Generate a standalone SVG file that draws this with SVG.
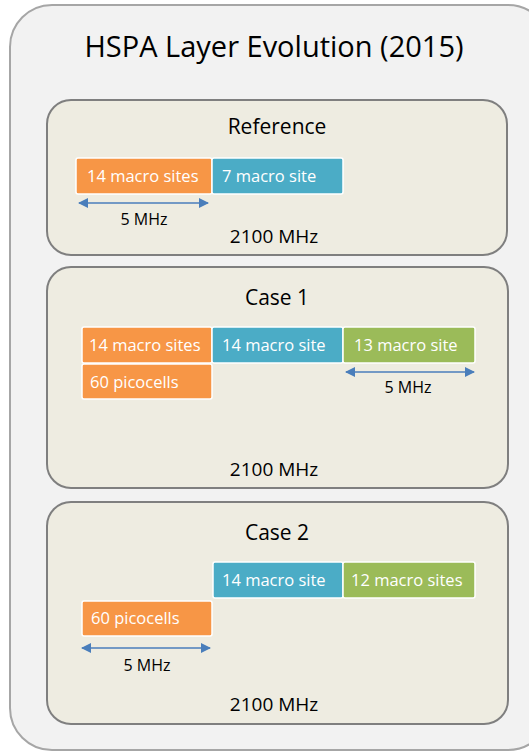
<svg xmlns="http://www.w3.org/2000/svg" width="529" height="754" viewBox="0 0 529 754">
<style>
text{font-family:"Open Sans","Noto Sans","Liberation Sans",sans-serif;}
.panel{fill:#eeece1;stroke:#7f7f7f;stroke-width:2;}
.blk{stroke:#ffffff;stroke-width:1.5;}
.or{fill:#f79646;}
.bl{fill:#4bacc6;}
.gr{fill:#9bbb59;}
.bt{fill:#ffffff;font-size:16.5px;}
.hd{fill:#000000;font-size:21px;text-anchor:middle;}
.fq{fill:#000000;font-size:19px;text-anchor:middle;}
.mz{fill:#000000;font-size:16px;text-anchor:middle;}
.arr{stroke:#4a7ebb;stroke-width:1.5;fill:none;marker-start:url(#ah);marker-end:url(#ah);}
</style>
<defs>
<marker id="ah" viewBox="0 0 10 10" refX="9" refY="5" markerWidth="10" markerHeight="10" markerUnits="userSpaceOnUse" orient="auto-start-reverse">
<path d="M0,0 L10,5 L0,10 z" fill="#4a7ebb"/>
</marker>
</defs>
<rect x="0" y="0" width="529" height="754" fill="#ffffff"/>
<g id="outer">
<rect x="10" y="5" width="540" height="745" rx="42" ry="42" fill="#f2f2f2" stroke="#a6a6a6" stroke-width="2"/>
<text x="274" y="57" style="font-size:29px;text-anchor:middle;fill:#000">HSPA Layer Evolution (2015)</text>
</g>
<g id="reference">
<rect class="panel" x="47" y="100" width="460" height="155" rx="24" ry="24"/>
<text class="hd" x="277" y="134">Reference</text>
<text class="fq" x="274" y="243">2100 MHz</text>
</g>
<g id="ref-macro14">
<rect class="blk or" x="76" y="158" width="136" height="36" rx="2"/>
<text class="bt" x="87" y="182">14 macro sites</text>
</g>
<g id="ref-macro7">
<rect class="blk bl" x="212" y="158" width="131" height="36" rx="2"/>
<text class="bt" x="222" y="182">7 macro site</text>
</g>
<g id="case1">
<rect class="panel" x="47" y="267" width="461" height="221" rx="24" ry="24"/>
<text class="hd" x="277" y="305">Case 1</text>
<text class="fq" x="274" y="476">2100 MHz</text>
</g>
<g id="c1-macro14s">
<rect class="blk or" x="82" y="327" width="130" height="36" rx="2"/>
<text class="bt" x="89" y="351">14 macro sites</text>
</g>
<g id="c1-pico">
<rect class="blk or" x="82" y="364" width="130" height="35" rx="2"/>
<text class="bt" x="90" y="388">60 picocells</text>
</g>
<g id="c1-macro14">
<rect class="blk bl" x="212" y="327" width="131" height="36" rx="2"/>
<text class="bt" x="222" y="351">14 macro site</text>
</g>
<g id="c1-macro13">
<rect class="blk gr" x="343" y="327" width="132" height="36" rx="2"/>
<text class="bt" x="354" y="351">13 macro site</text>
</g>
<g id="case2">
<rect class="panel" x="47" y="502" width="461" height="222" rx="24" ry="24"/>
<text class="hd" x="277" y="540">Case 2</text>
<text class="fq" x="274" y="711">2100 MHz</text>
</g>
<g id="c2-macro14">
<rect class="blk bl" x="213" y="562" width="130" height="36" rx="2"/>
<text class="bt" x="222" y="586">14 macro site</text>
</g>
<g id="c2-macro12">
<rect class="blk gr" x="343" y="562" width="132" height="36" rx="2"/>
<text class="bt" x="351" y="586">12 macro sites</text>
</g>
<g id="c2-pico">
<rect class="blk or" x="82" y="601" width="130" height="35" rx="2"/>
<text class="bt" x="91" y="624">60 picocells</text>
</g>
<g id="connectors">
<line class="arr" x1="79" y1="203" x2="208" y2="203"/>
<line class="arr" x1="346" y1="372" x2="474" y2="372"/>
<line class="arr" x1="82" y1="648" x2="210" y2="648"/>
</g>
<g id="labels">
<text class="mz" x="144" y="225">5 MHz</text>
<text class="mz" x="408" y="393">5 MHz</text>
<text class="mz" x="147" y="671">5 MHz</text>
</g>
</svg>
